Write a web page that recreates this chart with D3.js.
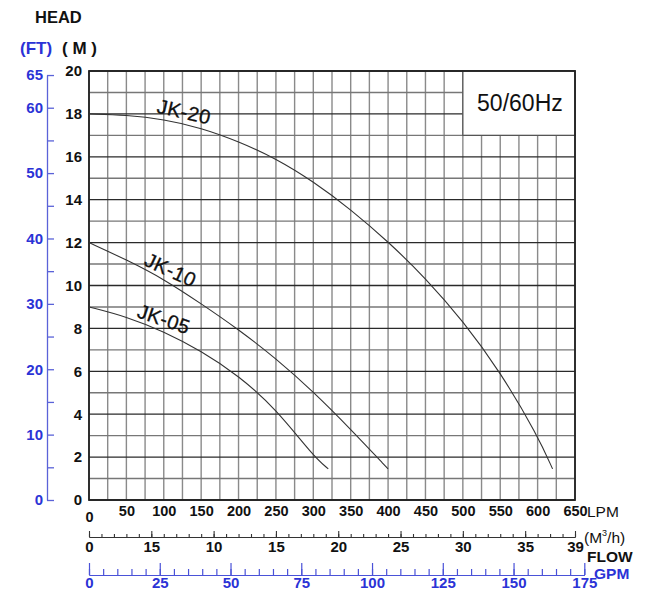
<!DOCTYPE html>
<html><head><meta charset="utf-8">
<script src="https://cdn.jsdelivr.net/npm/d3@7"></script>
<style>
html,body{margin:0;padding:0;background:#fff;}
svg{display:block;font-family:"Liberation Sans",Arial,sans-serif;}
</style></head>
<body>
<svg id="c" width="654" height="608"></svg>
<script>
// ---- data ----
const jk20 = [[0,18],[50,17.95],[100,17.75],[150,17.35],[200,16.72],[250,15.92],[300,14.85],[350,13.55],[400,12.05],[450,10.35],[500,8.35],[550,5.98],[600,3.0],[620,1.45]];
const jk10 = [[0,12],[50,11.2],[100,10.3],[150,9.15],[200,7.95],[250,6.6],[300,5.05],[350,3.3],[400,1.45]];
const jk05 = [[0,9],[50,8.55],[100,7.85],[150,6.95],[200,5.8],[250,4.25],[300,2.05],[320,1.45]];
const seriesNames = ["JK-20","JK-10","JK-05"];
const lpmTicks = d3.range(0, 651, 50);
const headTicks = d3.range(0, 21, 2);
const ftLabelTicks = [0,10,20,30,40,50,60,65];
const ftTicks = d3.range(0, 66, 5);
const m3hTickValues = [0,5,10,15,20,25,30,35,39];
const m3hTickLabels = ["0","15","10","15","20","25","30","35","39"];
const gpmTicks = d3.range(0, 176, 25);
const freqLabel = "50/60Hz";

const BLUE = "#2b33d6";
const FONT = "Liberation Sans, Arial, sans-serif";
const svg = d3.select("#c");

const x = d3.scaleLinear().domain([0,650]).range([89,575]);
const y = d3.scaleLinear().domain([0,20]).range([500,71]);
const yFt = d3.scaleLinear().domain([0,65]).range([y(0), y(65*0.3048)]);
const xM3 = d3.scaleLinear().domain([0,39]).range([x(0), x(650)]);
const lpmPerGpm = 3.78541;
const xGpm = d3.scaleLinear().domain([0,175]).range([x(0), x(175*lpmPerGpm)]);

// grid
const g = svg.append("g");
d3.range(0, 651, 25).forEach(v => {
  g.append("line").attr("x1", x(v)).attr("x2", x(v)).attr("y1", y(0)).attr("y2", y(20))
    .attr("stroke", "#8a8a8a").attr("stroke-width", 1.4);
});
d3.range(0, 21, 1).forEach(v => {
  g.append("line").attr("x1", x(0)).attr("x2", x(650)).attr("y1", y(v)).attr("y2", y(v))
    .attr("stroke", v % 2 === 0 ? "#2a2a2a" : "#777").attr("stroke-width", v%2===0?1.3:1.4);
});
// frequency box
g.append("rect").attr("x", x(500)).attr("y", y(20)).attr("width", x(650)-x(500)).attr("height", y(17)-y(20))
  .attr("fill", "#fff").attr("stroke", "#555").attr("stroke-width", 1.3);
g.append("text").attr("x", (x(500)+x(650))/2 + 1).attr("y", (y(20)+y(17))/2 + 8)
  .attr("text-anchor","middle").attr("font-size", 23).attr("fill","#111").text(freqLabel);
// frame
g.append("rect").attr("x", x(0)).attr("y", y(20)).attr("width", x(650)-x(0)).attr("height", y(0)-y(20))
  .attr("fill","none").attr("stroke","#222").attr("stroke-width",1.8);

// curves
const line = d3.line().x(d => x(d[0])).y(d => y(d[1])).curve(d3.curveBasis);
[jk20, jk10, jk05].forEach(s => {
  svg.append("path").attr("d", line(s)).attr("fill","none").attr("stroke","#333").attr("stroke-width",1.1);
});
// curve labels: [LPM, head on curve, rotation]
const labelPos = [[125,17.55,13],[105,10.2,25],[97,7.89,19]];
labelPos.forEach((p,i) => {
  svg.append("text")
    .attr("transform", `translate(${x(p[0])},${y(p[1])-5}) rotate(${p[2]})`)
    .attr("text-anchor","middle").attr("font-size",20).attr("letter-spacing",0.4)
    .attr("fill","#111").attr("stroke","#111").attr("stroke-width",0.3).text(seriesNames[i]);
});

// left M axis
const axM = d3.axisLeft(y).tickValues(headTicks).tickSize(0).tickPadding(7);
const gM = svg.append("g").attr("transform", `translate(${x(0)},0)`).call(axM);
gM.select(".domain").remove();
gM.selectAll("text").attr("font-size",15).attr("font-weight","bold").attr("fill","#111").attr("font-family",FONT);

// FT axis
const axFt = d3.axisLeft(yFt).tickValues(ftTicks).tickSizeInner(-7).tickSizeOuter(0).tickPadding(4)
  .tickFormat(d => ftLabelTicks.includes(d) ? d : "");
const gFt = svg.append("g").attr("transform","translate(47,0)").call(axFt);
gFt.select(".domain").attr("stroke","#5a62d8").attr("stroke-width",1.3);
gFt.selectAll(".tick line").attr("stroke","#5a62d8").attr("stroke-width",1.3);
gFt.selectAll("text").attr("font-size",15).attr("font-weight","bold").attr("fill",BLUE).attr("font-family",FONT);

// LPM axis
const axL = d3.axisBottom(x).tickValues(lpmTicks).tickSize(0).tickPadding(6);
const gL = svg.append("g").attr("transform",`translate(0,${y(0)})`).call(axL);
gL.select(".domain").remove();
gL.selectAll("text").attr("font-size",14.5).attr("font-weight","bold").attr("fill","#111").attr("font-family",FONT);
gL.selectAll(".tick").filter(d => d===0).select("text").attr("dy","1.1em");

// M3/h axis
const yM3 = 537;
const gM3minor = svg.append("g").attr("transform",`translate(0,${yM3})`)
  .call(d3.axisBottom(xM3).tickValues(d3.range(0,40,1)).tickSizeInner(-3).tickSizeOuter(0).tickFormat(""));
gM3minor.selectAll("line,path").attr("stroke","#333").attr("stroke-width",1.1);
const gM3 = svg.append("g").attr("transform",`translate(0,${yM3})`)
  .call(d3.axisBottom(xM3).tickValues(m3hTickValues).tickSizeInner(-6).tickSizeOuter(0).tickPadding(4)
    .tickFormat((d,i) => m3hTickLabels[i]));
gM3.selectAll("line,path").attr("stroke","#333").attr("stroke-width",1.1);
gM3.selectAll("text").attr("font-size",15).attr("font-weight","bold").attr("fill","#111").attr("font-family",FONT);

// GPM axis
const yG = 575;
const gGminor = svg.append("g").attr("transform",`translate(0,${yG})`)
  .call(d3.axisBottom(xGpm).tickValues(d3.range(0,176,5)).tickSizeInner(-6).tickSizeOuter(0).tickFormat(""));
gGminor.selectAll("line,path").attr("stroke","#4a52d8").attr("stroke-width",1.2);
const gG = svg.append("g").attr("transform",`translate(0,${yG})`)
  .call(d3.axisBottom(xGpm).tickValues(gpmTicks).tickSizeInner(-12).tickSizeOuter(0).tickPadding(2));
gG.selectAll("line,path").attr("stroke","#4a52d8").attr("stroke-width",1.2);
gG.selectAll("text").attr("font-size",15).attr("font-weight","bold").attr("fill",BLUE).attr("font-family",FONT);

// titles
svg.append("text").attr("x",35).attr("y",23).attr("font-size",16.5).attr("font-weight","bold").attr("fill","#111").text("HEAD");
svg.append("text").attr("x",20).attr("y",54).attr("font-size",17).attr("font-weight","bold").attr("fill",BLUE).text("(FT)");
svg.append("text").attr("x",62).attr("y",54).attr("font-size",17).attr("font-weight","bold").attr("fill","#111").text("( M )");
svg.append("text").attr("x",587).attr("y",517).attr("font-size",15.5).attr("fill","#111").text("LPM");
const m3 = svg.append("text").attr("x",584).attr("y",543).attr("font-size",15.5).attr("fill","#111");
m3.append("tspan").text("(M");
m3.append("tspan").attr("font-size",9).attr("dy",-7).text("3");
m3.append("tspan").attr("dy",7).text("/h)");
svg.append("text").attr("x",587).attr("y",562).attr("font-size",15.5).attr("font-weight","bold").attr("fill","#111").text("FLOW");
svg.append("text").attr("x",594).attr("y",579).attr("font-size",15.5).attr("font-weight","bold").attr("fill",BLUE).text("GPM");
</script>
</body></html>
